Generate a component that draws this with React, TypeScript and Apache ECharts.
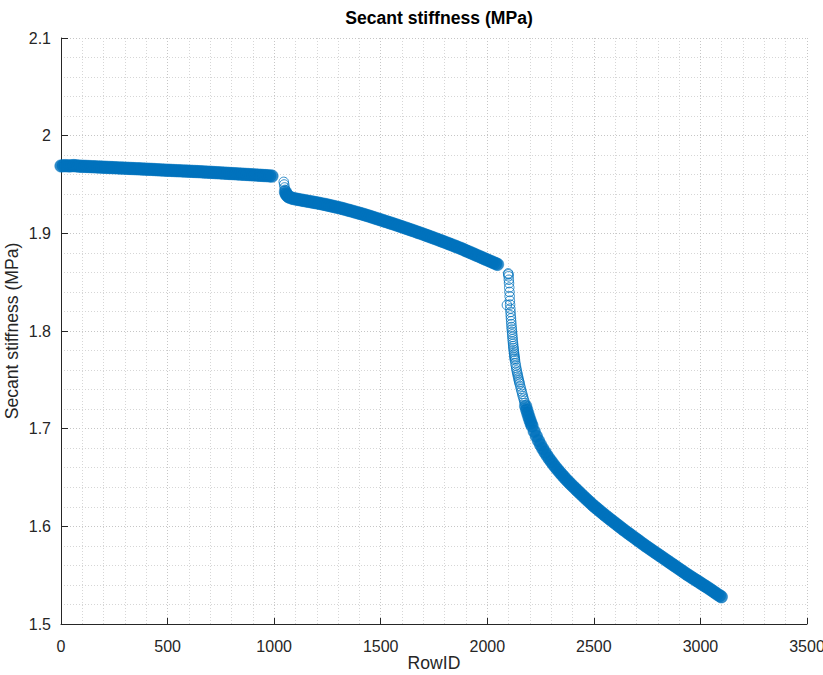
import React, { useEffect, useRef } from "react";
import * as echarts from "echarts";

// [RowID, Secant stiffness (MPa)]
const segment1: [number, number][] = [
  [0, 1.9690], [10, 1.9692], [20, 1.9693], [30, 1.9691], [40, 1.9690], [50, 1.9692], [60, 1.9694], [70, 1.9691], [80, 1.9689], [90, 1.9688],
  [100, 1.9686], [110, 1.9686], [120, 1.9685], [130, 1.9684], [140, 1.9683], [150, 1.9682], [160, 1.9681], [170, 1.9680], [180, 1.9679], [190, 1.9678],
  [200, 1.9677], [210, 1.9676], [220, 1.9675], [230, 1.9674], [240, 1.9673], [250, 1.9672], [260, 1.9671], [270, 1.9670], [280, 1.9669], [290, 1.9668],
  [300, 1.9667], [310, 1.9666], [320, 1.9665], [330, 1.9664], [340, 1.9663], [350, 1.9662], [360, 1.9661], [370, 1.9660], [380, 1.9659], [390, 1.9658],
  [400, 1.9657], [410, 1.9656], [420, 1.9655], [430, 1.9654], [440, 1.9653], [450, 1.9651], [460, 1.9650], [470, 1.9649], [480, 1.9648], [490, 1.9647],
  [500, 1.9646], [510, 1.9645], [520, 1.9644], [530, 1.9643], [540, 1.9642], [550, 1.9641], [560, 1.9640], [570, 1.9639], [580, 1.9638], [590, 1.9637],
  [600, 1.9636], [610, 1.9635], [620, 1.9634], [630, 1.9633], [640, 1.9632], [650, 1.9631], [660, 1.9630], [670, 1.9628], [680, 1.9627], [690, 1.9626],
  [700, 1.9625], [710, 1.9624], [720, 1.9622], [730, 1.9621], [740, 1.9620], [750, 1.9619], [760, 1.9617], [770, 1.9616], [780, 1.9615], [790, 1.9613],
  [800, 1.9612], [810, 1.9611], [820, 1.9610], [830, 1.9608], [840, 1.9607], [850, 1.9606], [860, 1.9604], [870, 1.9603], [880, 1.9602], [890, 1.9600],
  [900, 1.9599], [910, 1.9598], [920, 1.9596], [930, 1.9595], [940, 1.9594], [950, 1.9592], [960, 1.9591], [970, 1.9590], [980, 1.9588], [990, 1.9586],
];

// first isolated points after the jump (drawn as separate rings)
const segment2Start: [number, number][] = [
  [1045, 1.9527], [1047, 1.9500], [1049, 1.9470], [1051, 1.9445],
];

const segment2: [number, number][] = [
  [1053, 1.9425], [1056, 1.9405], [1060, 1.9390], [1065, 1.9380],
  [1070, 1.9372], [1080, 1.9363], [1090, 1.9357], [1100, 1.9352], [1110, 1.9348], [1120, 1.9344], [1130, 1.9340], [1140, 1.9336],
  [1150, 1.9332], [1160, 1.9328], [1170, 1.9324], [1180, 1.9320], [1190, 1.9316], [1200, 1.9312], [1210, 1.9308], [1220, 1.9304],
  [1230, 1.9299], [1240, 1.9295], [1250, 1.9290], [1260, 1.9285], [1270, 1.9280], [1280, 1.9275], [1290, 1.9270], [1300, 1.9265],
  [1310, 1.9260], [1320, 1.9254], [1330, 1.9248], [1340, 1.9242], [1350, 1.9236], [1360, 1.9230], [1370, 1.9224], [1380, 1.9218],
  [1390, 1.9212], [1400, 1.9206], [1410, 1.9200], [1420, 1.9193], [1430, 1.9187], [1440, 1.9180], [1450, 1.9173], [1460, 1.9166],
  [1470, 1.9159], [1480, 1.9152], [1490, 1.9145], [1500, 1.9138], [1510, 1.9131], [1520, 1.9124], [1530, 1.9117], [1540, 1.9110],
  [1550, 1.9103], [1560, 1.9096], [1570, 1.9089], [1580, 1.9081], [1590, 1.9074], [1600, 1.9067], [1610, 1.9059], [1620, 1.9052],
  [1630, 1.9044], [1640, 1.9037], [1650, 1.9029], [1660, 1.9022], [1670, 1.9014], [1680, 1.9006], [1690, 1.8999], [1700, 1.8991],
  [1710, 1.8983], [1720, 1.8975], [1730, 1.8967], [1740, 1.8959], [1750, 1.8951], [1760, 1.8943], [1770, 1.8935], [1780, 1.8927],
  [1790, 1.8918], [1800, 1.8910], [1810, 1.8902], [1820, 1.8893], [1830, 1.8885], [1840, 1.8876], [1850, 1.8868], [1860, 1.8859],
  [1870, 1.8851], [1880, 1.8842], [1890, 1.8833], [1900, 1.8822], [1910, 1.8813], [1920, 1.8804], [1930, 1.8794], [1940, 1.8785],
  [1950, 1.8775], [1960, 1.8766], [1970, 1.8756], [1980, 1.8747], [1990, 1.8737], [2000, 1.8728], [2010, 1.8718], [2020, 1.8709],
  [2030, 1.8699], [2040, 1.8690], [2048, 1.8682],
];

// steep drop: individual rings are visible here
const segment3Steep: [number, number][] = [
  [2092, 1.8266], [2098, 1.8590], [2099, 1.8580], [2100, 1.8560], [2101, 1.8525], [2102, 1.8490], [2103, 1.8445], [2104, 1.8400],
  [2105, 1.8355], [2106, 1.8310], [2107, 1.8270], [2108, 1.8230], [2109, 1.8195], [2110, 1.8160], [2111, 1.8130], [2112, 1.8100],
  [2113, 1.8070], [2114, 1.8040], [2115, 1.8015], [2116, 1.7990], [2117, 1.7965], [2118, 1.7940], [2119, 1.7915], [2120, 1.7890],
  [2121, 1.7868], [2122, 1.7845], [2123, 1.7825], [2124, 1.7805], [2125, 1.7785], [2126, 1.7765], [2127, 1.7748], [2128, 1.7730],
  [2129, 1.7715], [2130, 1.7700], [2132, 1.7670], [2134, 1.7645], [2136, 1.7620], [2138, 1.7595], [2140, 1.7575], [2142, 1.7555],
  [2144, 1.7535], [2146, 1.7515], [2148, 1.7495], [2150, 1.7478], [2152, 1.7460], [2155, 1.7433], [2158, 1.7407], [2161, 1.7382],
  [2164, 1.7356], [2167, 1.7332], [2170, 1.7308], [2173, 1.7285], [2176, 1.7262],
];

const segment3Tail: [number, number][] = [
  [2180, 1.7230], [2185, 1.7192], [2190, 1.7156], [2195, 1.7121], [2200, 1.7088], [2205, 1.7057], [2210, 1.7028],
];

const segment4: [number, number][] = [
  [2220, 1.6973], [2230, 1.6923], [2240, 1.6877], [2250, 1.6835], [2260, 1.6796], [2270, 1.6760], [2280, 1.6726], [2290, 1.6694],
  [2300, 1.6664], [2310, 1.6635], [2320, 1.6607], [2330, 1.6580], [2340, 1.6554], [2350, 1.6529], [2360, 1.6505], [2370, 1.6481],
  [2380, 1.6458], [2390, 1.6436], [2400, 1.6414], [2410, 1.6393], [2420, 1.6372], [2430, 1.6351], [2440, 1.6330], [2450, 1.6309],
  [2460, 1.6288], [2470, 1.6268], [2480, 1.6248], [2490, 1.6228], [2500, 1.6208], [2510, 1.6190], [2520, 1.6172], [2530, 1.6154],
  [2540, 1.6136], [2550, 1.6118], [2560, 1.6100], [2570, 1.6083], [2580, 1.6066], [2590, 1.6049], [2600, 1.6032], [2610, 1.6015],
  [2620, 1.5998], [2630, 1.5981], [2640, 1.5964], [2650, 1.5948], [2660, 1.5932], [2670, 1.5916], [2680, 1.5900], [2690, 1.5884],
  [2700, 1.5868], [2710, 1.5852], [2720, 1.5836], [2730, 1.5820], [2740, 1.5804], [2750, 1.5789], [2760, 1.5774], [2770, 1.5759],
  [2780, 1.5744], [2790, 1.5729], [2800, 1.5714], [2810, 1.5699], [2820, 1.5684], [2830, 1.5669], [2840, 1.5654], [2850, 1.5639],
  [2860, 1.5624], [2870, 1.5609], [2880, 1.5594], [2890, 1.5579], [2900, 1.5564], [2910, 1.5549], [2920, 1.5534], [2930, 1.5519],
  [2940, 1.5504], [2950, 1.5490], [2960, 1.5476], [2970, 1.5462], [2980, 1.5448], [2990, 1.5434], [3000, 1.5420], [3010, 1.5406],
  [3020, 1.5392], [3030, 1.5378], [3040, 1.5364], [3050, 1.5349], [3060, 1.5334], [3070, 1.5319], [3080, 1.5304], [3090, 1.5290],
  [3098, 1.5278],
];

const TITLE = "Secant stiffness (MPa)";
const X_NAME = "RowID";
const Y_NAME = "Secant stiffness (MPa)";

const FONT = "'Liberation Sans', Arial, Helvetica, sans-serif";
const AXIS_COLOR = "#262626";
const MARK_COLOR = "#0072BD";
const MAJOR_GRID = "#c6c6c6";
const MINOR_GRID = "#d6d6d6";

export default function App() {
  const ref = useRef<HTMLDivElement>(null);

  useEffect(() => {
    if (!ref.current) return;
    const chart = echarts.init(ref.current, null, { renderer: "svg" });

    const denseData = [...segment1, ...segment2, ...segment3Tail, ...segment4];
    const ringData = [...segment2Start, ...segment3Steep];

    const commonAxis = {
      nameLocation: "middle" as const,
      nameMoveOverlap: false,
      nameTextStyle: { fontFamily: FONT, fontSize: 17.6, color: AXIS_COLOR },
      axisLine: { show: true, onZero: false, lineStyle: { color: AXIS_COLOR, width: 1 } },
      axisLabel: { fontFamily: FONT, fontSize: 16, color: AXIS_COLOR, formatter: (v: number) => String(+v.toFixed(6)) },
      splitLine: { show: true, lineStyle: { color: MAJOR_GRID, width: 1, type: [1, 2] } },
      minorTick: { show: false, splitNumber: 5 },
      minorSplitLine: { show: true, lineStyle: { color: MINOR_GRID, width: 1, type: [1, 2] } },
    };

    chart.setOption({
      animation: false,
      backgroundColor: "#ffffff",
      title: {
        text: TITLE,
        left: 434,
        top: 4,
        textAlign: "center",
        textStyle: { fontFamily: FONT, fontSize: 17.6, fontWeight: "bold", color: "#000000" },
      },
      grid: { left: 61, right: 16, top: 38, bottom: 51, containLabel: false, outerBoundsMode: "none" },
      xAxis: {
        ...commonAxis,
        type: "value",
        min: 0,
        max: 3500,
        interval: 500,
        name: X_NAME,
        nameGap: 30,
        axisTick: { show: true, inside: true, length: 6, lineStyle: { color: AXIS_COLOR } },
        axisLabel: { ...commonAxis.axisLabel, margin: 14 },
      },
      yAxis: {
        ...commonAxis,
        type: "value",
        min: 1.5,
        max: 2.1,
        interval: 0.1,
        name: Y_NAME,
        nameGap: 40,
        axisTick: { show: true, inside: true, length: 7, lineStyle: { color: AXIS_COLOR } },
        axisLabel: { ...commonAxis.axisLabel, margin: 10 },
      },
      series: [
        {
          type: "scatter",
          data: denseData,
          symbol: "circle",
          symbolSize: 12.5,
          silent: true,
          itemStyle: { color: MARK_COLOR, borderColor: MARK_COLOR, borderWidth: 0.5 },
        },
        {
          type: "scatter",
          data: ringData,
          symbol: "circle",
          symbolSize: 9.5,
          silent: true,
          itemStyle: { color: "rgba(0,0,0,0)", borderColor: MARK_COLOR, borderWidth: 1 },
        },
      ],
    });

    return () => chart.dispose();
  }, []);

  return (
    <div
      ref={ref}
      style={{ position: "fixed", left: 0, top: 0, width: 823, height: 675, background: "#ffffff" }}
    />
  );
}
